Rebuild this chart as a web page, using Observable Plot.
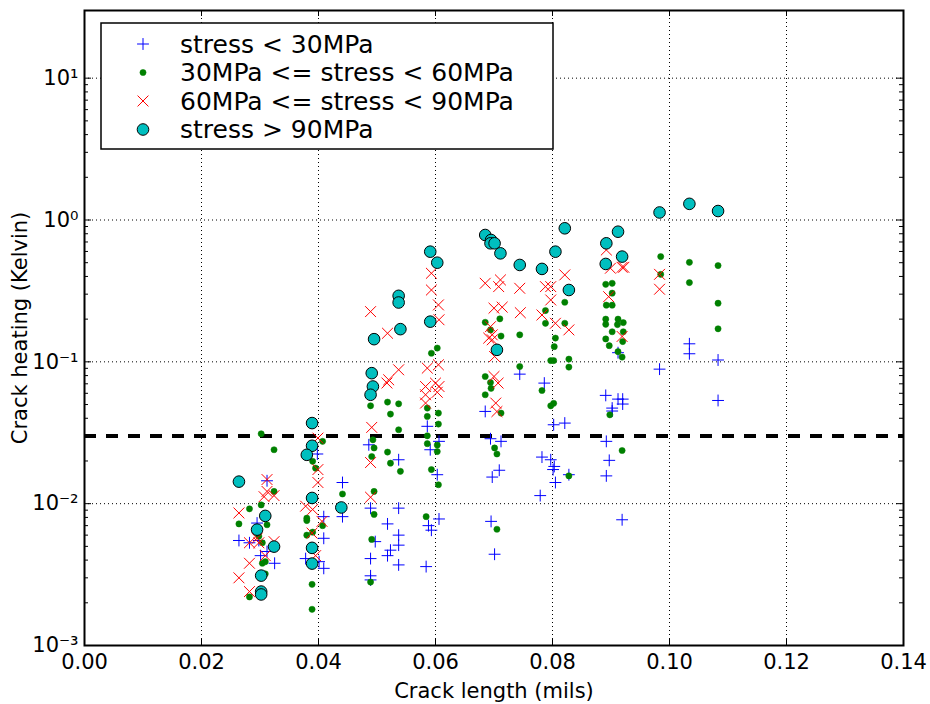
<!DOCTYPE html>
<html><head><meta charset="utf-8">
<script src="https://cdn.jsdelivr.net/npm/d3@7"></script>
<script src="https://cdn.jsdelivr.net/npm/@observablehq/plot@0.6"></script>
<style>
body{margin:0;background:#fff;}
#chart svg{font-family:"DejaVu Sans";display:block;}
</style>
</head><body><div id="chart"></div>
<script>
// ---- data (crack length in mils, crack heating in Kelvin) ----
const lowX = [0.0312,0.0264,0.0282,0.0295,0.0312,0.0325,0.0301,0.0298,
  0.0398,0.0441,0.0441,0.0409,0.0409,0.0378,0.0401,0.0409,
  0.0486,0.0537,0.0489,0.0537,0.0518,0.0497,0.0537,0.0537,0.0523,0.0518,0.0489,0.0537,0.0489,0.0489,
  0.0586,0.0606,0.0591,0.0603,0.0606,0.0588,0.0593,0.0584,
  0.0744,0.0786,0.0685,0.0821,0.0802,0.0694,0.0712,0.0709,0.0697,0.0782,0.0797,0.0803,0.0801,0.0805,0.0779,0.0828,0.0695,0.0701,
  0.0912,0.0891,0.0912,0.0920,0.0920,0.0902,0.0902,0.0892,0.0897,0.0892,0.0919,0.0983,0.1034,0.1034,0.1083,0.1083];
const lowY = [0.0145,0.0055,0.0053,0.0073,0.0046,0.0038,0.0043,0.0055,
  0.0224,0.0141,0.0081,0.0081,0.0057,0.0041,0.0039,0.0035,
  0.026,0.0204,0.0093,0.0093,0.0072,0.0054,0.0060,0.0051,0.0047,0.0043,0.0041,0.0037,0.0031,0.0029,
  0.0351,0.0275,0.0240,0.0160,0.0078,0.0070,0.0065,0.0036,
  0.0819,0.0708,0.0447,0.0370,0.0360,0.0287,0.0275,0.0172,0.0154,0.0213,0.0204,0.0183,0.0174,0.0141,0.0114,0.0160,0.0075,0.0044,
  0.116,0.058,0.0546,0.0546,0.0504,0.0472,0.0450,0.0275,0.0202,0.0157,0.0077,0.0888,0.134,0.114,0.103,0.0534];

const midX = [0.0302,0.0324,0.0324,0.0282,0.0264,0.0302,0.0312,0.0298,0.0304,0.0309,0.0304,0.0309,0.0282,
  0.0407,0.0390,0.0395,0.0441,0.0380,0.0380,0.0407,0.0380,0.0390,0.0389,0.0389,
  0.0489,0.0518,0.0537,0.0523,0.0537,0.0493,0.0495,0.0491,0.0518,0.0523,0.0540,0.0495,0.0495,0.0491,0.0489,
  0.0593,0.0603,0.0586,0.0586,0.0605,0.0605,0.0586,0.0586,0.0603,0.0603,0.0593,0.0605,0.0584,
  0.0710,0.0685,0.0694,0.0712,0.0744,0.0744,0.0685,0.0694,0.0695,0.0685,0.0712,0.0701,0.0705,0.0705,
  0.0821,0.0788,0.0788,0.0821,0.0805,0.0803,0.0797,0.0802,0.0828,0.0828,0.0782,0.0797,0.0802,0.0828,
  0.0891,0.0902,0.0902,0.0892,0.0902,0.0891,0.0891,0.0912,0.0911,0.0921,0.0902,0.0921,0.0891,0.0920,0.0897,0.0912,0.0919,0.0898,0.0919,
  0.0985,0.0985,0.1034,0.1034,0.1083,0.1083,0.1083];
const midY = [0.0311,0.0240,0.0122,0.0092,0.0072,0.0098,0.0071,0.0059,0.0053,0.0039,0.0038,0.0032,0.0022,
  0.0275,0.0199,0.0178,0.0117,0.0079,0.0076,0.0070,0.0060,0.0063,0.0027,0.0018,
  0.049,0.052,0.0506,0.0428,0.0332,0.0282,0.0247,0.0215,0.0231,0.0193,0.0169,0.0122,0.0084,0.0056,0.0028,
  0.115,0.125,0.0472,0.0412,0.0435,0.0364,0.0301,0.0265,0.0259,0.0233,0.0174,0.0136,0.0081,
  0.201,0.190,0.168,0.152,0.155,0.0927,0.0788,0.0715,0.065,0.0586,0.0435,0.0247,0.0224,0.0066,
  0.263,0.230,0.187,0.187,0.147,0.128,0.102,0.102,0.1045,0.0918,0.0628,0.049,0.051,0.0157,
  0.352,0.358,0.305,0.251,0.251,0.200,0.184,0.200,0.183,0.189,0.163,0.163,0.145,0.139,0.130,0.118,0.108,0.0423,0.0237,
  0.552,0.414,0.503,0.362,0.477,0.259,0.171];

const highX = [0.0312,0.0312,0.0324,0.0307,0.0264,0.0295,0.0282,0.0324,0.0298,0.0309,0.0282,0.0264,0.0282,
  0.0399,0.0399,0.0399,0.0378,0.0390,0.0406,0.0389,0.0395,
  0.0489,0.0518,0.0537,0.0520,0.0517,0.0491,0.0489,0.0489,
  0.0593,0.0593,0.0605,0.0606,0.0586,0.0605,0.0583,0.0600,0.0606,0.0583,0.0583,0.0603,
  0.0685,0.0711,0.0708,0.0744,0.0700,0.0714,0.0745,0.0694,0.0697,0.0691,0.0697,0.0701,0.0700,0.0707,0.0703,0.0705,
  0.0788,0.0797,0.0797,0.0782,0.0805,0.0828,0.0821,
  0.0892,0.0899,0.0919,0.0922,0.0896,0.0919,0.0983,0.0983];
const highY = [0.0148,0.0122,0.0114,0.0112,0.0086,0.0057,0.0053,0.0054,0.0053,0.0043,0.0038,0.0030,0.0024,
  0.0290,0.0174,0.0141,0.0096,0.0091,0.0075,0.0062,0.0043,
  0.226,0.159,0.0879,0.0747,0.0709,0.0345,0.0195,0.0111,
  0.421,0.321,0.252,0.198,0.0903,0.0953,0.067,0.0708,0.067,0.0586,0.0512,0.0610,
  0.358,0.378,0.339,0.330,0.239,0.243,0.222,0.177,0.155,0.147,0.143,0.109,0.0788,0.0708,0.0512,0.0446,
  0.339,0.339,0.273,0.214,0.187,0.168,0.410,
  0.615,0.457,0.464,0.464,0.288,0.151,0.414,0.325];

const maxX = [0.0264,0.0309,0.0295,0.0324,0.0302,0.0302,0.0302,
  0.0389,0.0389,0.0380,0.0389,0.0439,0.0389,0.0389,
  0.0495,0.0537,0.0537,0.0540,0.0491,0.0493,0.0489,0.0591,0.0603,0.0591,
  0.0685,0.0695,0.0694,0.0701,0.0711,0.0744,0.0782,0.0805,0.0821,0.0828,0.0705,
  0.0912,0.0892,0.0919,0.0891,0.0983,0.1034,0.1083];
const maxY = [0.0143,0.0082,0.00656,0.00498,0.00311,0.0024,0.00229,
  0.0370,0.0256,0.0221,0.01097,0.0094,0.00488,0.00378,
  0.1445,0.292,0.262,0.170,0.0832,0.067,0.0586,0.598,0.500,0.192,
  0.784,0.723,0.685,0.685,0.582,0.482,0.452,0.598,0.874,0.321,0.1215,
  0.827,0.685,0.552,0.490,1.13,1.30,1.157];

const legendLabels = ["stress < 30MPa", "30MPa <= stress < 60MPa", "60MPa <= stress < 90MPa", "stress > 90MPa"];
const xTicks = [0, 0.02, 0.04, 0.06, 0.08, 0.10, 0.12, 0.14];
const yTicks = [1e-3, 1e-2, 1e-1, 1, 10];
const yMinorMult = [2, 3, 4, 5, 6, 7, 8, 9];
const threshold = 0.03;
const xLabel = "Crack length (mils)";
const yLabel = "Crack heating (Kelvin)";

// ---- build ----
const pts = (xs, ys) => xs.map((x, i) => ({x, y: ys[i]}));
const lowPts = pts(lowX, lowY), midPts = pts(midX, midY), highPts = pts(highX, highY), maxPts = pts(maxX, maxY);
const yMinor = yTicks.slice(0, -1).flatMap(d => yMinorMult.map(m => d * m)).filter(v => v <= 30);

const W = 930, H = 704, mL = 84, mR = 27, mT = 10, mB = 59;
const pw = W - mL - mR, ph = H - mT - mB;
const supMap = {"-": "⁻", "0": "⁰", "1": "¹", "2": "²", "3": "³"};
const fmtPow = d => "10" + String(Math.round(Math.log10(d))).split("").map(c => supMap[c]).join("");

const C = {low: "#0000ff", mid: "#008000", high: "#ff0000", max: "#00bfbf"};
const R = {low: 3.9, mid: 3.1, high: 5, max: 5.8};

const chart = Plot.plot({
  width: W, height: H,
  marginLeft: mL, marginRight: mR, marginTop: mT, marginBottom: mB,
  style: {fontFamily: "DejaVu Sans", fontSize: "21px", color: "black", background: "white"},
  x: {domain: [0, 0.14]},
  y: {type: "log", domain: [1e-3, 30]},
  marks: [
    Plot.gridX(xTicks.slice(1, -1), {stroke: "black", strokeOpacity: 1, strokeWidth: 1, strokeDasharray: "1,3"}),
    Plot.gridY(yTicks.slice(1), {stroke: "black", strokeOpacity: 1, strokeWidth: 1, strokeDasharray: "1,3"}),
    Plot.ruleY([threshold], {stroke: "black", strokeWidth: 4, strokeDasharray: "12,10"}),
    Plot.dot(lowPts, {x: "x", y: "y", symbol: "plus", stroke: C.low, strokeWidth: 1, r: R.low}),
    Plot.dot(midPts, {x: "x", y: "y", fill: C.mid, stroke: C.mid, strokeWidth: 0.5, r: R.mid}),
    Plot.dot(highPts, {x: "x", y: "y", symbol: "times", stroke: C.high, strokeWidth: 1, r: R.high}),
    Plot.dot(maxPts, {x: "x", y: "y", fill: C.max, stroke: "black", strokeWidth: 1, r: R.max}),
    Plot.tickX(xTicks, {insetTop: ph - 6, stroke: "black"}),
    Plot.tickX(xTicks, {insetBottom: ph - 6, stroke: "black"}),
    Plot.tickY(yTicks, {insetRight: pw - 7, stroke: "black"}),
    Plot.tickY(yTicks, {insetLeft: pw - 7, stroke: "black"}),
    Plot.tickY(yMinor, {insetRight: pw - 4, stroke: "black"}),
    Plot.tickY(yMinor, {insetLeft: pw - 4, stroke: "black"}),
    Plot.frame({stroke: "black", strokeWidth: 2}),
    Plot.axisX(xTicks, {tickSize: 0, tickPadding: 9, tickFormat: d3.format(".2f"), fontSize: 21,
      label: xLabel, labelAnchor: "center", labelArrow: "none", labelOffset: 52}),
    Plot.axisY(yTicks, {tickSize: 0, tickPadding: 6, tickFormat: fmtPow, fontSize: 21,
      label: yLabel, labelAnchor: "center", labelArrow: "none", labelOffset: 72})
  ]
});
document.getElementById("chart").appendChild(chart);

// ---- legend inside the axes (upper left) ----
const svg = d3.select(chart);
const lg = svg.append("g").attr("class", "legend").attr("text-anchor", "start");
lg.append("rect").attr("x", 101).attr("y", 23).attr("width", 452).attr("height", 126)
  .attr("fill", "white").attr("stroke", "black").attr("stroke-width", 1.5);
const keys = ["low", "mid", "high", "max"];
const syms = {low: d3.symbolPlus, mid: d3.symbolCircle, high: d3.symbolTimes, max: d3.symbolCircle};
keys.forEach((k, i) => {
  const cy = 44 + i * 28.5;
  const path = d3.symbol(syms[k], Math.PI * R[k] * R[k])();
  const p = lg.append("path").attr("d", path).attr("transform", `translate(143,${cy})`);
  if (k === "low" || k === "high") p.attr("fill", "none").attr("stroke", C[k]).attr("stroke-width", 1);
  else if (k === "mid") p.attr("fill", C[k]).attr("stroke", C[k]).attr("stroke-width", 0.5);
  else p.attr("fill", C[k]).attr("stroke", "black").attr("stroke-width", 1);
  lg.append("text").attr("x", 180).attr("y", cy).attr("dy", "0.35em").attr("text-anchor", "start")
    .attr("font-size", 25).attr("fill", "black").text(legendLabels[i]);
});
</script>
</body></html>
